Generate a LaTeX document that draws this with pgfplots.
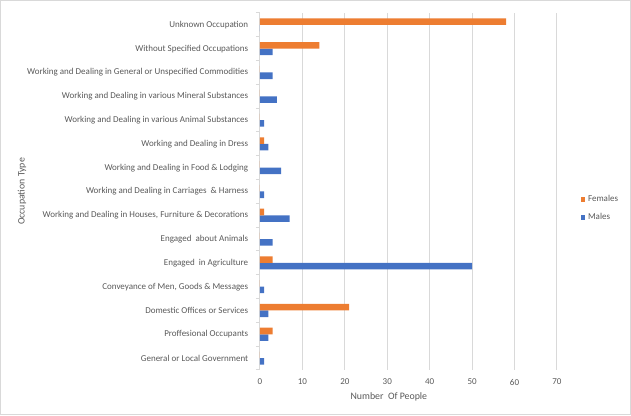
\documentclass[border=0pt]{standalone}
\usepackage{pgfplots}
\pgfplotsset{compat=1.18}
\usepackage{fontspec}
\setmainfont{Carlito}
\definecolor{xlorange}{HTML}{ED7D31}
\definecolor{xlblue}{HTML}{4472C4}
\definecolor{xltext}{HTML}{595959}
\definecolor{xlgrid}{HTML}{D9D9D9}
\begin{document}
\begin{tikzpicture}
% chart frame (image is 631x415 px, 1px = 0.75pt; axis origin at px (260,370))
\draw[xlgrid, line width=0.75pt] (-194.6pt,-33.4pt) rectangle (277.9pt,277.1pt);
\begin{axis}[
    at={(0,0)}, anchor=south west,
    scale only axis,
    width=222.75pt, height=267.75pt,
    xbar,
    bar width=4.9pt,
    xmin=0, xmax=70,
    ymin=-0.5, ymax=14.5,
    xtick={0,10,...,70},
    ytick={0,...,14},
    yticklabels={General or Local Government, Proffesional Occupants, Domestic Offices or Services, {Conveyance of Men, Goods \& Messages}, Engaged\ \ in Agriculture, Engaged\ \ about Animals, {Working and Dealing in Houses, Furniture \& Decorations}, Working and Dealing in Carriages\ \ \& Harness, Working and Dealing in Food \& Lodging, Working and Dealing in Dress, Working and Dealing in various Animal Substances, Working and Dealing in various Mineral Substances, Working and Dealing in General or Unspecified Commodities, Without Specified Occupations, Unknown Occupation},
    minor ytick={-0.5,0.5,...,14.5},
    major y tick style={draw=none},
    minor y tick style={xlgrid, line width=0.75pt},
    minor tick length=3pt,
    y tick style={xlgrid},
    tick align=outside,
    xmajorgrids,
    grid style={xlgrid, line width=0.75pt},
    x tick style={draw=none},
    axis x line*=bottom,
    axis y line*=left,
    x axis line style={draw=none},
    y axis line style={xlgrid, line width=0.75pt},
    tick label style={font=\fontsize{6.75}{8}\selectfont, text=xltext},
    yticklabel style={xshift=-1pt},
    xticklabel style={yshift=1pt},
    /pgf/number format/assume math mode=true,
    xlabel={Number\ \ Of People},
    ylabel={Occupation Type},
    label style={font=\fontsize{7.4}{9}\selectfont, text=xltext},
    xlabel style={at={(axis description cs:0.434,-0.0756)}, anchor=center},
    ylabel style={at={(axis description cs:-0.801,0.5)}, anchor=center},
    legend style={at={(axis description cs:1.066,0.452)}, anchor=west, draw=none, fill=none,
        font=\fontsize{6.75}{8}\selectfont, text=xltext, row sep=3pt,
        /tikz/every even column/.append style={column sep=1pt}},
    legend cell align=left,
    reverse legend,
    legend image code/.code={\fill[#1] (0pt,-1.6pt) rectangle (3.4pt,1.8pt);},
    clip=false,
]
\addplot[fill=xlblue, draw=none, bar shift=-2.45pt] coordinates {
    (1,0) (2,1) (2,2) (1,3) (50,4) (3,5) (7,6) (1,7) (5,8) (2,9) (1,10) (4,11) (3,12) (3,13) (0,14)
};
\addlegendentry{Males}
\addplot[fill=xlorange, draw=none, bar shift=2.45pt] coordinates {
    (0,0) (3,1) (21,2) (0,3) (3,4) (0,5) (1,6) (0,7) (0,8) (1,9) (0,10) (0,11) (0,12) (14,13) (58,14)
};
\addlegendentry{Females}
\end{axis}
\end{tikzpicture}
\end{document}
